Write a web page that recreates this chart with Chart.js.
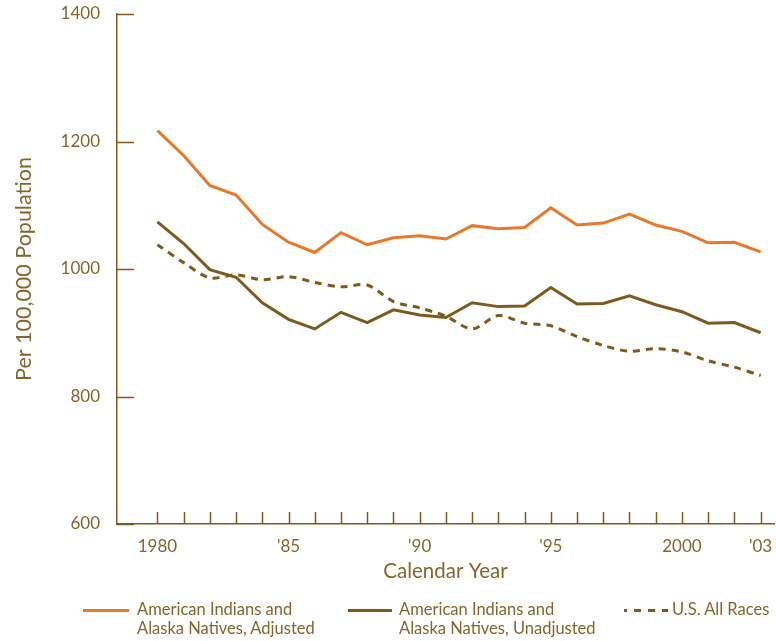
<!DOCTYPE html>
<html>
<head>
<meta charset="utf-8">
<script src="https://cdn.jsdelivr.net/npm/chart.js@4"></script>
<style>
  html,body{margin:0;padding:0;background:#fff;}
  #wrap{position:relative;width:776px;height:641px;}
  #legend{position:absolute;left:0;top:0;width:776px;height:641px;pointer-events:none;
    font-family:Lato,"Open Sans",sans-serif;font-size:16.5px;color:#85652d;line-height:19px;}
  .item{position:absolute;top:600px;}
  .swatch{position:absolute;top:9px;height:0;}
</style>
</head>
<body>
<div id="wrap">
  <canvas id="c" width="776" height="641"></canvas>
  <div id="legend">
    <div class="item" style="left:83px"><div class="swatch" style="left:0;width:46px;border-top:3px solid #e8782a"></div>
      <div style="margin-left:54px">American Indians and<br>Alaska Natives, Adjusted</div></div>
    <div class="item" style="left:348px"><div class="swatch" style="left:0;width:44px;border-top:3px solid #7d5a1e"></div>
      <div style="margin-left:51px">American Indians and<br>Alaska Natives, Unadjusted</div></div>
    <div class="item" style="left:624px"><div class="swatch" style="left:0;width:44px;border-top:3px dashed #7d5a1e;border-image:repeating-linear-gradient(90deg,#7d5a1e 0 6px,transparent 6px 12px) 3"></div>
      <div style="margin-left:48px">U.S. All Races</div></div>
  </div>
</div>
<script>
// ---- data ----
const years=[1980,1981,1982,1983,1984,1985,1986,1987,1988,1989,1990,1991,1992,1993,1994,1995,1996,1997,1998,1999,2000,2001,2002,2003];
const adjusted=[1217,1178,1131,1116,1070,1042,1026,1057,1038,1049,1052,1047,1068,1063,1065,1096,1069,1072,1086,1069,1059,1041,1042,1027];
const unadjusted=[1074,1040,999,987,947,921,906,932,916,936,928,924,947,941,942,971,945,946,958,944,933,915,916,900];
const usAllRaces=[1038,1010,986,991,983,988,979,972,975,949,939,926,906,927,915,911,894,880,871,875,870,856,846,833];
const yTicks=[600,800,1000,1200,1400];
const xLabels={1980:'1980',1985:"'85",1990:"'90",1995:"'95",2000:'2000',2003:"'03"};

const BROWN='#7d5a1e', ORANGE='#e8782a', TEXT='#85652d';
Chart.defaults.font.family='Lato, "Open Sans", sans-serif';
Chart.defaults.color=TEXT;

const pts=arr=>arr.map((v,i)=>({x:years[i],y:v}));

// tick marks drawn inward from the axes
const innerTicks={
  id:'innerTicks',
  afterDatasetsDraw(chart){
    const {ctx,scales:{x,y}}=chart;
    ctx.save();
    ctx.strokeStyle=BROWN;ctx.lineWidth=1.5;
    yTicks.forEach(v=>{const py=Math.round(y.getPixelForValue(v))+0.5;
      ctx.beginPath();ctx.moveTo(x.left,py);ctx.lineTo(x.left+17,py);ctx.stroke();});
    years.forEach(v=>{const px=Math.round(x.getPixelForValue(v))+0.5;
      ctx.beginPath();ctx.moveTo(px,y.bottom);ctx.lineTo(px,y.bottom-12);ctx.stroke();});
    ctx.restore();
  }
};

new Chart(document.getElementById('c'),{
  type:'line',
  data:{datasets:[
    {label:'American Indians and Alaska Natives, Adjusted',data:pts(adjusted),borderColor:ORANGE,borderWidth:3,pointRadius:0,tension:0},
    {label:'American Indians and Alaska Natives, Unadjusted',data:pts(unadjusted),borderColor:BROWN,borderWidth:3,pointRadius:0,tension:0},
    {label:'U.S. All Races',data:pts(usAllRaces),borderColor:BROWN,borderWidth:3,borderDash:[7,6],pointRadius:0,tension:0.3}
  ]},
  options:{
    responsive:false,animation:false,
    layout:{padding:{top:14,left:0,right:2,bottom:47}},
    plugins:{legend:{display:false},tooltip:{enabled:false}},
    scales:{
      x:{type:'linear',min:1978.46,max:2003.51,
        afterBuildTicks:s=>{s.ticks=years.map(v=>({value:v}));},
        afterFit:s=>{s.height=70;s.paddingLeft=0;s.paddingRight=0;},
        grid:{display:false,drawTicks:false},
        border:{display:true,color:BROWN,width:1.5},
        ticks:{autoSkip:false,maxRotation:0,padding:12,font:{size:17},callback:v=>xLabels[v]||''},
        title:{display:true,text:'Calendar Year',font:{size:20.5},padding:{top:0,bottom:10}}
      },
      y:{min:600,max:1400,
        afterBuildTicks:s=>{s.ticks=yTicks.map(v=>({value:v}));},
        afterFit:s=>{s.width=117;s.paddingTop=0;s.paddingBottom=0;},
        grid:{display:false,drawTicks:false},
        border:{display:true,color:BROWN,width:1.5},
        ticks:{padding:17,font:{size:17},callback:v=>String(v)},
        title:{display:true,text:'Per 100,000 Population',font:{size:21.5},padding:{top:11,bottom:0}}
      }
    }
  },
  plugins:[innerTicks]
});
</script>
</body>
</html>
